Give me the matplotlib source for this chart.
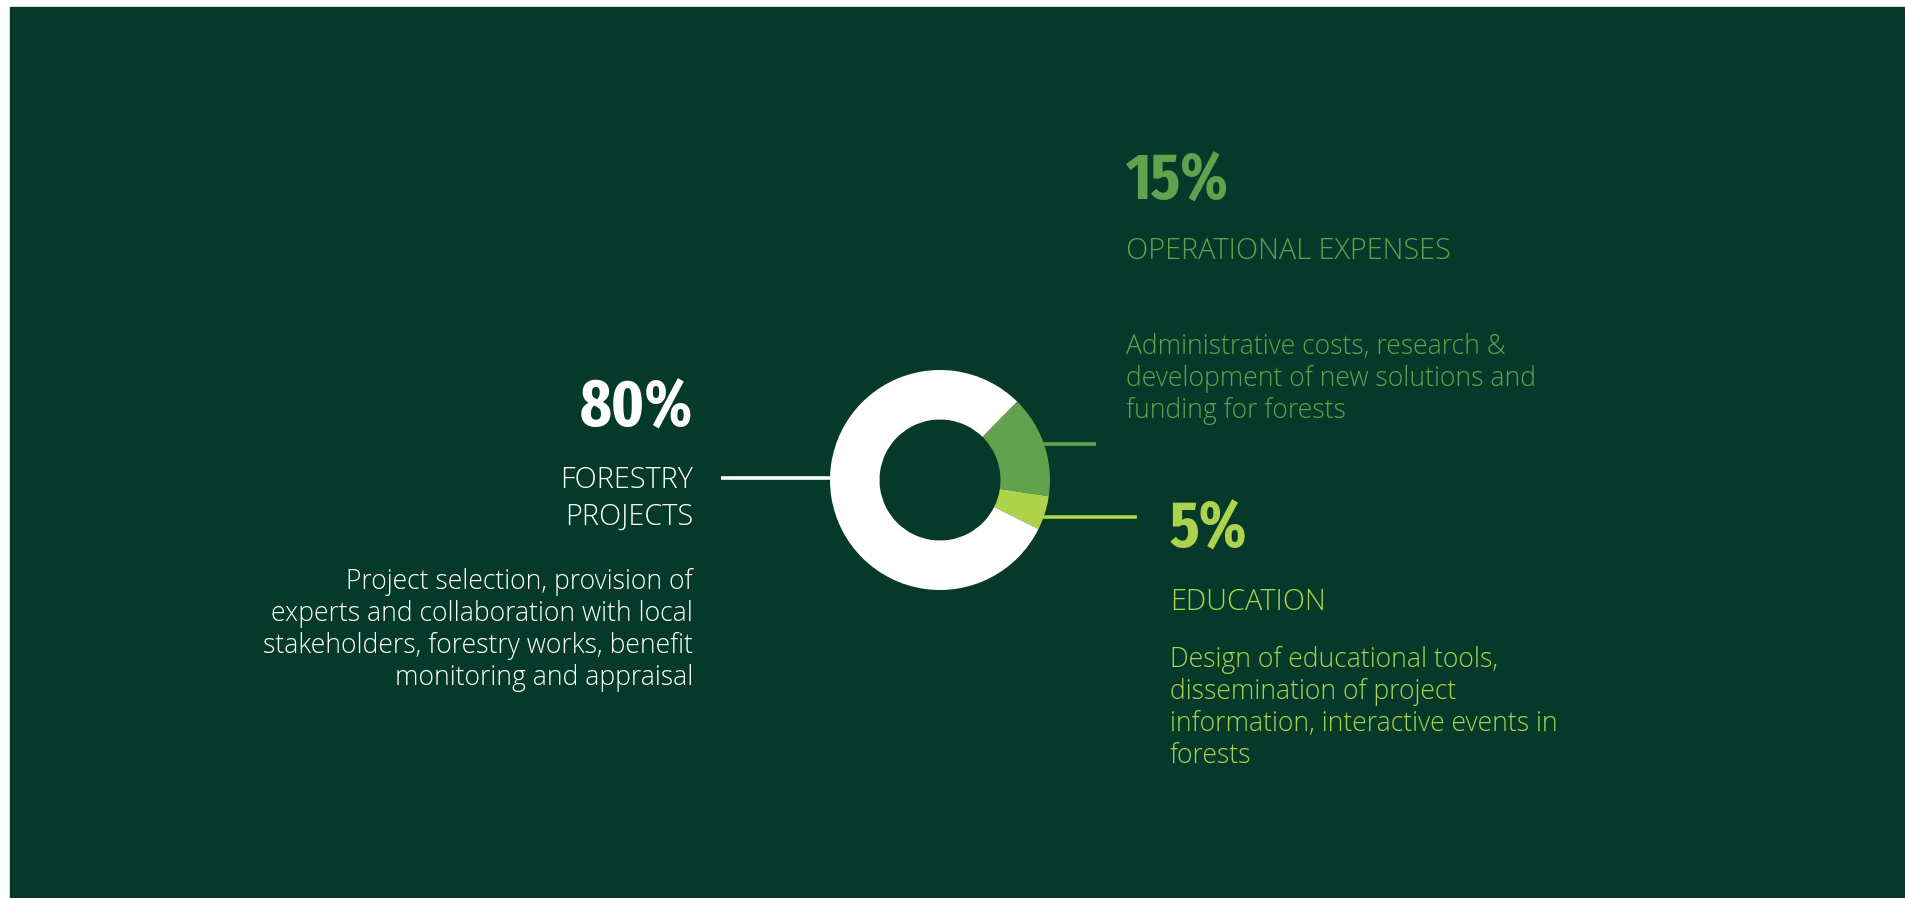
"""
Budget allocation donut chart (forestry / operations / education)
"""

import matplotlib
matplotlib.use("Agg")
import matplotlib.pyplot as plt
from matplotlib import font_manager
from matplotlib.font_manager import FontProperties
from matplotlib.patches import Rectangle

W, H = 1905, 898
BG = "#053a2a"

# data
categories = ["OPERATIONAL EXPENSES", "EDUCATION", "FORESTRY\nPROJECTS"]
shares = [15, 5, 80]
colors = ["#60a24e", "#add24c", "#ffffff"]
descriptions = [
    ["Administrative costs, research &",
     "development of new solutions and",
     "funding for forests"],
    ["Design of educational tools,",
     "dissemination of project",
     "information, interactive events in",
     "forests"],
    ["Project selection, provision of",
     "experts and collaboration with local",
     "stakeholders, forestry works, benefit",
     "monitoring and appraisal"],
]


def _wnum(w):
    if isinstance(w, int):
        return w
    return {"bold": 700, "semibold": 600, "demibold": 600, "heavy": 800,
            "black": 900, "extra bold": 800}.get(str(w).lower(), 400)


def condensed_bold(size):
    # pick the narrowest bold face that is installed
    best, best_score = None, -1
    for f in font_manager.fontManager.ttflist:
        key = (f.name + " " + f.fname).lower().replace(" ", "").replace("-", "")
        if "extracondensed" in key or "ultracondensed" in key or "compressed" in key:
            s = 30
        elif "semicondensed" in key:
            s = 10
        elif "condensed" in key or "narrow" in key or f.stretch in ("condensed", "extra-condensed"):
            s = 20
        else:
            continue
        w = _wnum(f.weight)
        if w < 600:
            continue
        s += 5 if w == 700 else 3
        if "italic" in key or f.style != "normal":
            continue
        if s > best_score:
            best, best_score = f.fname, s
    if best:
        return FontProperties(fname=best, size=size)
    return FontProperties(family=["Roboto", "DejaVu Sans"], weight="bold", size=size)


HEAD_FONT = dict(family=["Open Sans", "DejaVu Sans"], fontweight="light", fontsize=20.8)
DESC_FONT = dict(family=["Open Sans", "DejaVu Sans"], fontweight="light", fontsize=19.1)


def main():
    num_prop = condensed_bold(47)

    fig = plt.figure(figsize=(W / 100, H / 100), dpi=100, facecolor="white")
    base = fig.add_axes([0, 0, 1, 1])
    base.set_xlim(0, W)
    base.set_ylim(H, 0)
    base.axis("off")
    base.add_patch(Rectangle((10, 7), W - 10, H - 7, color=BG, zorder=0))

    # donut
    cx, cy, r = 940, 480, 110
    ax = fig.add_axes([(cx - r) / W, (H - cy - r) / H, 2 * r / W, 2 * r / H])
    ax.pie(shares, colors=colors, startangle=45.5, counterclock=False,
           wedgeprops=dict(width=0.45, linewidth=0))
    ax.set_xlim(-1, 1)
    ax.set_ylim(-1, 1)
    ax.set_aspect("equal")
    ax.axis("off")

    # leader lines
    base.plot([1043, 1096], [444, 444], color=colors[0], lw=2.6, solid_capstyle="butt")
    base.plot([1043, 1137], [517, 517], color=colors[1], lw=2.6, solid_capstyle="butt")
    base.plot([721, 830], [478, 478], color=colors[2], lw=2.6, solid_capstyle="butt")

    blocks = [
        # x, align, pct baseline, title baselines, desc baselines
        (1126, "left", 200, [259], [354, 386, 418]),
        (1170, "left", 548, [610], [667, 699, 731, 763]),
        (693, "right", 427, [488, 525], [589, 621, 653, 685]),
    ]
    for i, (x, ha, yp, ytitle, ydesc) in enumerate(blocks):
        c = colors[i]
        base.text(x, yp, f"{shares[i]}%", color=c, ha=ha, va="baseline",
                  fontproperties=num_prop)
        for line, y in zip(categories[i].split("\n"), ytitle):
            base.text(x, y, line, color=c, ha=ha, va="baseline", **HEAD_FONT)
        for line, y in zip(descriptions[i], ydesc):
            base.text(x, y, line, color=c, ha=ha, va="baseline", **DESC_FONT)

    fig.savefig("out.png", dpi=100, facecolor="white")
    plt.close(fig)


if __name__ == "__main__":
    main()
